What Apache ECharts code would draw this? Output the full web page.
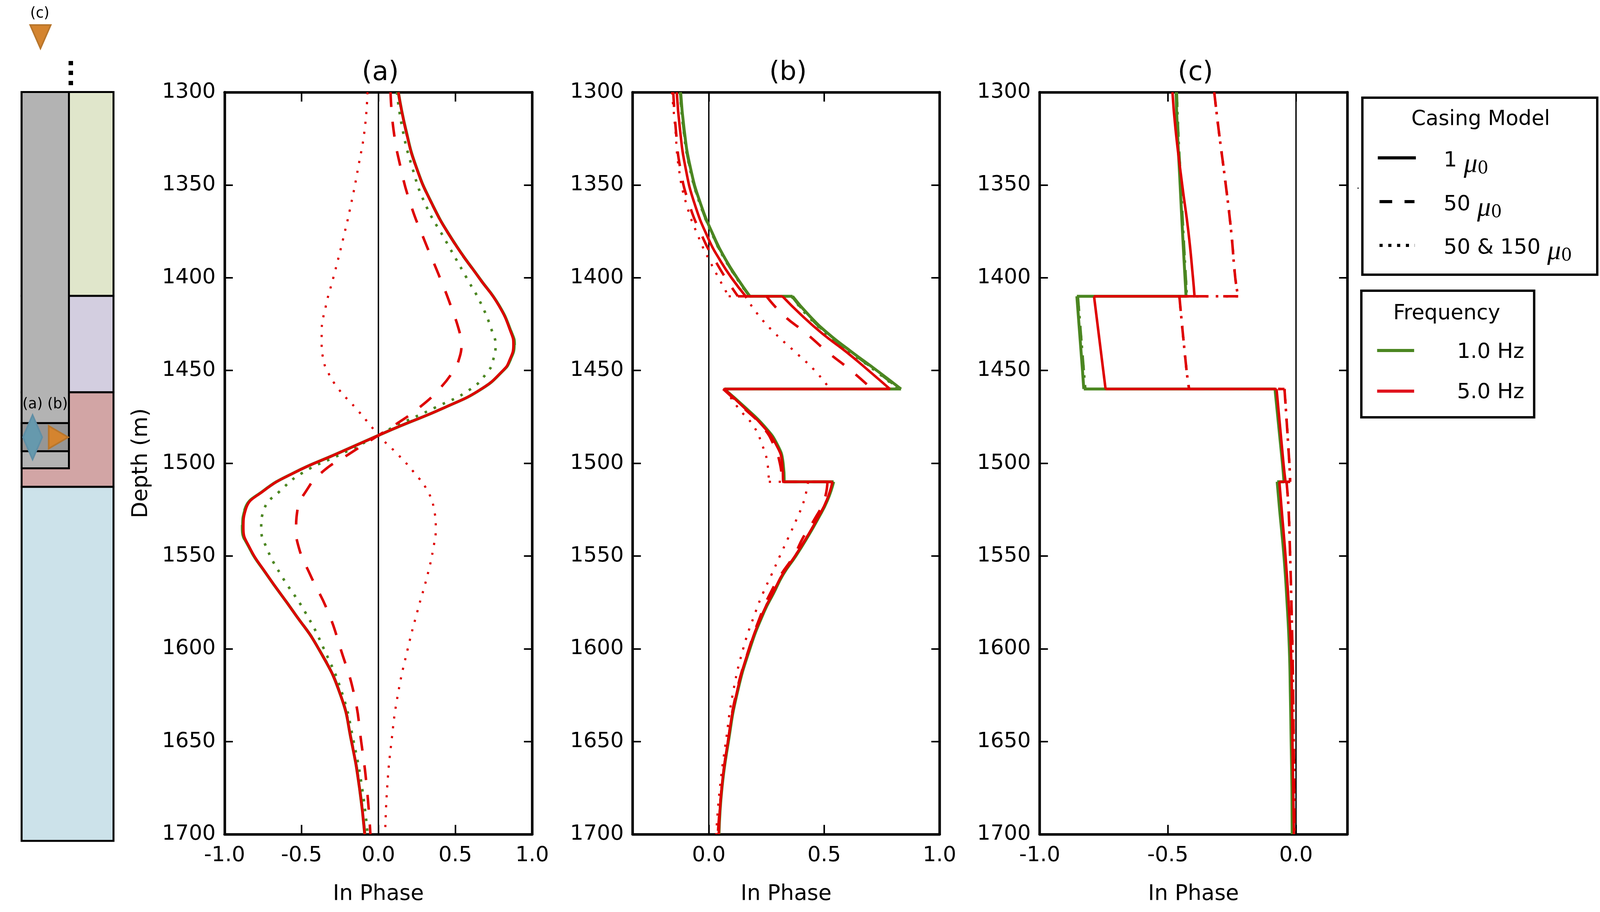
<!DOCTYPE html>
<html>
<head>
<meta charset="utf-8">
<title>In Phase</title>
<style>
  html, body { margin: 0; padding: 0; background: #fff; width: 100%; height: 100%; overflow: hidden; }
  #main { width: 100%; height: 100%; }
</style>
<script src="https://cdn.jsdelivr.net/npm/echarts@6/dist/echarts.min.js"></script>
</head>
<body>
<div id="main"></div>
<script>
// panel (a)
const depthA = [1300,1320,1340,1360,1380,1400,1415,1430,1436,1445,1450,1460,1470,1480,1485,1495,1505,1515,1525,1535,1545,1560,1580,1600,1625,1650,1675,1700];
const aGreenSolid = [0.13,0.178,0.245,0.348,0.485,0.655,0.785,0.867,0.883,0.853,0.812,0.67,0.43,0.14,0,-0.273,-0.546,-0.75,-0.867,-0.883,-0.843,-0.726,-0.553,-0.389,-0.246,-0.175,-0.123,-0.089];
const aGreenDashed = [0.128,0.176,0.243,0.346,0.483,0.653,0.785,0.869,0.886,0.855,0.812,0.668,0.428,0.138,0,-0.271,-0.544,-0.75,-0.87,-0.886,-0.845,-0.726,-0.552,-0.387,-0.244,-0.173,-0.121,-0.087];
const aGreenDotted = [0.12,0.157,0.218,0.303,0.437,0.573,0.673,0.744,0.762,0.744,0.717,0.6,0.369,0.11,0,-0.24,-0.49,-0.64,-0.744,-0.762,-0.73,-0.635,-0.478,-0.355,-0.232,-0.161,-0.106,-0.07];
const aRedSolid = [0.13,0.177,0.244,0.347,0.484,0.654,0.783,0.864,0.878,0.85,0.81,0.669,0.43,0.14,0,-0.273,-0.545,-0.748,-0.863,-0.878,-0.84,-0.725,-0.553,-0.389,-0.246,-0.175,-0.123,-0.089];
const aRedDashed = [0.079,0.098,0.143,0.208,0.3,0.4,0.47,0.53,0.54,0.52,0.49,0.396,0.266,0.096,0,-0.19,-0.369,-0.47,-0.526,-0.535,-0.519,-0.444,-0.328,-0.246,-0.157,-0.112,-0.075,-0.052];
const aRedDotted = [-0.071,-0.089,-0.13,-0.177,-0.232,-0.293,-0.341,-0.369,-0.369,-0.355,-0.334,-0.259,-0.15,-0.048,0,0.123,0.232,0.32,0.362,0.373,0.359,0.32,0.253,0.191,0.126,0.085,0.057,0.044];

// panel (b)
const depthB = [1300,1320,1340,1360,1380,1390,1400,1410,1410,1420,1430,1440,1450,1460,1460,1470,1480,1490,1500,1510,1510,1520,1530,1540,1550,1560,1570,1580,1600,1625,1650,1675,1700];
const bGreenSolid = [-0.122,-0.107,-0.081,-0.036,0.03,0.072,0.122,0.178,0.363,0.432,0.516,0.619,0.728,0.833,0.067,0.158,0.24,0.297,0.322,0.327,0.541,0.514,0.473,0.427,0.377,0.322,0.281,0.24,0.178,0.121,0.085,0.057,0.044];
const bGreenDashed = [-0.124,-0.109,-0.083,-0.038,0.028,0.07,0.12,0.176,0.36,0.427,0.511,0.614,0.723,0.826,0.066,0.156,0.238,0.295,0.32,0.325,0.539,0.512,0.471,0.425,0.375,0.32,0.279,0.238,0.176,0.12,0.084,0.056,0.043];
const bGreenDotted = [-0.125,-0.11,-0.084,-0.039,0.027,0.069,0.119,0.175,0.358,0.424,0.508,0.61,0.72,0.82,0.066,0.155,0.237,0.294,0.319,0.324,0.538,0.511,0.47,0.424,0.374,0.319,0.278,0.237,0.176,0.119,0.084,0.056,0.043];
const bRedSolid = [-0.139,-0.125,-0.102,-0.062,0.002,0.046,0.098,0.16,0.319,0.4,0.491,0.596,0.692,0.785,0.067,0.153,0.235,0.292,0.318,0.322,0.536,0.511,0.47,0.424,0.374,0.319,0.278,0.237,0.175,0.119,0.083,0.056,0.043];
const bRedDashed = [-0.154,-0.143,-0.125,-0.086,-0.02,0.024,0.072,0.126,0.25,0.322,0.422,0.514,0.616,0.707,0.062,0.149,0.231,0.281,0.308,0.318,0.514,0.5,0.459,0.409,0.368,0.313,0.267,0.231,0.174,0.117,0.083,0.056,0.039];
const bRedDotted = [-0.16,-0.145,-0.131,-0.098,-0.038,0,0.042,0.086,0.158,0.214,0.287,0.374,0.459,0.525,0.071,0.126,0.194,0.231,0.254,0.26,0.43,0.413,0.381,0.345,0.308,0.272,0.235,0.203,0.149,0.103,0.074,0.048,0.032];

// panel (c)
const depthC = [1300,1320,1350,1375,1400,1410,1410,1450,1460,1460,1500,1510,1510,1525,1550,1575,1600,1625,1650,1675,1700];
const cGreenSolid = [-0.468,-0.463,-0.452,-0.443,-0.433,-0.429,-0.855,-0.833,-0.828,-0.082,-0.053,-0.047,-0.0735,-0.064,-0.047,-0.035,-0.026,-0.022,-0.019,-0.016,-0.015];
const cGreenDashed = [-0.465,-0.46,-0.449,-0.44,-0.43,-0.426,-0.851,-0.828,-0.822,-0.08,-0.051,-0.046,-0.072,-0.062,-0.046,-0.034,-0.025,-0.021,-0.018,-0.015,-0.014];
const cRedSolid = [-0.482,-0.47,-0.444,-0.42,-0.402,-0.396,-0.788,-0.752,-0.743,-0.076,-0.049,-0.041,-0.065,-0.056,-0.041,-0.029,-0.02,-0.016,-0.014,-0.011,-0.008];
const cRedDashed = [-0.319,-0.302,-0.274,-0.253,-0.237,-0.226,-0.455,-0.427,-0.417,-0.045,-0.026,-0.023,-0.037,-0.029,-0.023,-0.018,-0.014,-0.011,-0.009,-0.007,-0.006];

// axes
const panelTitles = ["(a)", "(b)", "(c)"];
const xLimits = [[-1, 1], [-0.33, 1], [-1, 0.2]];
const xTicks = [[-1, -0.5, 0, 0.5, 1], [0, 0.5, 1], [-1, -0.5, 0]];
const depthLimits = [1300, 1700];

// well sketch
const layerTop = [1300, 1410, 1462, 1513];
const layerBottom = [1410, 1462, 1513, 1704];
const casingTop = [1300, 1478.6];
const casingBottom = [1503, 1493.8];

let myChart = echarts.init(document.getElementById("main"));

// the browser can come up narrower than the 4666 wide reference (it clamps at 4096),
// so every horizontal position is taken from reference pixels through this scale
const sx = myChart.getWidth() / 4666;
const X = (px) => px * sx;

const GREEN = "#4b8621";
const RED = "#de0000";
const FONT = "DejaVu Sans";
const TICK_SIZE = 54;
const grids = [
  { left: X(655), top: 236, width: X(897), height: 1899 },
  { left: X(1845), top: 236, width: X(895), height: 1899 },
  { left: X(3032), top: 236, width: X(897), height: 1899 },
];

const DASH = [38, 38];
function dots(w) {
  return [w, 76 / 3 - w];
}

function line(panel, points, color, width, type, smooth) {
  return {
    type: "line",
    xAxisIndex: panel * 2,
    yAxisIndex: panel * 2,
    data: points,
    showSymbol: false,
    symbol: "none",
    smooth: smooth,
    silent: true,
    lineStyle: { color: color, width: width, type: type },
  };
}

// a curve is smoothed between the jumps only; the jumps stay straight and horizontal
function curve(panel, depth, values, color, width, type, smooth) {
  let pieces = [];
  let jumps = [];
  values.forEach((v, i) => {
    if (i > 0 && depth[i] == depth[i - 1]) {
      pieces.push([null, null]);
      jumps.push([values[i - 1], depth[i]], [v, depth[i]], [null, null]);
    }
    pieces.push([v, depth[i]]);
  });
  let out = [line(panel, pieces, color, width, type, smooth)];
  if (jumps.length) {
    out.push(line(panel, jumps, color, width, type, false));
  }
  return out;
}

let xAxes = [];
let yAxes = [];
grids.forEach((g, i) => {
  let spine = { show: true, onZero: false, lineStyle: { color: "#000", width: 6.5 } };
  let tickStyle = { color: "#000", width: 4 };
  let [xMin, xMax] = xLimits[i];
  xAxes.push({
    gridIndex: i,
    type: "value",
    min: xMin,
    max: xMax,
    name: "In Phase",
    nameLocation: "middle",
    nameGap: 126,
    nameTextStyle: { fontFamily: FONT, fontSize: 55, color: "#000" },
    axisLine: spine,
    splitLine: { show: false },
    axisTick: { show: true, inside: true, length: 24, lineStyle: tickStyle, customValues: xTicks[i] },
    axisLabel: {
      show: true,
      fontFamily: FONT,
      fontSize: TICK_SIZE,
      color: "#000",
      margin: 28,
      customValues: xTicks[i],
      formatter: (v) => Number(v).toFixed(1),
    },
  });
  xAxes.push({
    gridIndex: i,
    type: "value",
    position: "top",
    min: xMin,
    max: xMax,
    axisLine: spine,
    splitLine: { show: false },
    axisTick: { show: true, inside: true, length: 24, lineStyle: tickStyle, customValues: xTicks[i] },
    axisLabel: { show: false },
  });
  yAxes.push({
    gridIndex: i,
    type: "value",
    inverse: true,
    min: depthLimits[0],
    max: depthLimits[1],
    interval: 50,
    name: i == 0 ? "Depth (m)" : "",
    nameLocation: "middle",
    nameGap: X(212),
    nameRotate: 90,
    nameTextStyle: { fontFamily: FONT, fontSize: 55, color: "#000" },
    axisLine: spine,
    splitLine: { show: false },
    axisTick: { show: true, inside: true, length: X(24), lineStyle: tickStyle },
    axisLabel: {
      show: true,
      fontFamily: FONT,
      fontSize: TICK_SIZE,
      color: "#000",
      margin: X(26),
      formatter: (v) => String(v),
    },
  });
  yAxes.push({
    gridIndex: i,
    type: "value",
    position: "right",
    inverse: true,
    min: depthLimits[0],
    max: depthLimits[1],
    interval: 50,
    axisLine: spine,
    splitLine: { show: false },
    axisTick: { show: true, inside: true, length: X(24), lineStyle: tickStyle },
    axisLabel: { show: false },
  });
});

// sketch grid
xAxes.push({ gridIndex: 3, type: "value", min: 0, max: 1, show: false });
yAxes.push({ gridIndex: 3, type: "value", inverse: true, min: 1300, max: 1704, show: false });

const layerColors = ["#e0e6cb", "#d3cee0", "#d2a5a5", "#cce2ea"];
const casingColors = ["#b3b3b3", "#969696"];

function rectSeries(rows, colors) {
  return {
    type: "custom",
    xAxisIndex: 6,
    yAxisIndex: 6,
    silent: true,
    data: rows,
    renderItem: function (params, api) {
      let a = api.coord([api.value(0), api.value(2)]);
      let b = api.coord([api.value(1), api.value(3)]);
      return {
        type: "rect",
        shape: { x: a[0], y: a[1], width: b[0] - a[0], height: b[1] - a[1] },
        style: { fill: colors[params.dataIndex], stroke: "#000", lineWidth: 5 },
      };
    },
  };
}

let series = [
  rectSeries(layerTop.map((t, i) => [0, 1, t, layerBottom[i]]), layerColors),
  rectSeries(casingTop.map((t, i) => [0, 0.515, t, casingBottom[i]]), casingColors),
];

// zero lines
[0, 1, 2].forEach((p) => {
  series.push(line(p, [[0, depthLimits[0]], [0, depthLimits[1]]], "#000", 3.5, "solid", false));
});

series.push(
  ...curve(0, depthA, aGreenSolid, GREEN, 7.5, "solid", 0.5),
  ...curve(0, depthA, aGreenDashed, GREEN, 6.5, DASH, 0.5),
  ...curve(0, depthA, aGreenDotted, GREEN, 6.5, dots(6.5), 0.5),
  ...curve(0, depthA, aRedSolid, RED, 6.5, "solid", 0.5),
  ...curve(0, depthA, aRedDashed, RED, 6.5, DASH, 0.5),
  ...curve(0, depthA, aRedDotted, RED, 5.5, dots(5.5), 0.5),
  ...curve(1, depthB, bGreenSolid, GREEN, 7.5, "solid", 0.5),
  ...curve(1, depthB, bGreenDashed, GREEN, 6.5, DASH, 0.5),
  ...curve(1, depthB, bGreenDotted, GREEN, 6.5, dots(6.5), 0.5),
  ...curve(1, depthB, bRedSolid, RED, 6.5, "solid", 0.5),
  ...curve(1, depthB, bRedDashed, RED, 6.5, DASH, 0.5),
  ...curve(1, depthB, bRedDotted, RED, 5.5, dots(5.5), 0.5),
  ...curve(2, depthC, cGreenSolid, GREEN, 7.5, "solid", 0.5),
  ...curve(2, depthC, cGreenDashed, GREEN, 6.5, DASH, 0.5),
  ...curve(2, depthC, cGreenDashed, GREEN, 6.5, dots(6.5), 0.5),
  ...curve(2, depthC, cRedSolid, RED, 6.5, "solid", 0.5),
  ...curve(2, depthC, cRedDashed, RED, 6.5, DASH, 0.5),
  ...curve(2, depthC, cRedDashed, RED, 6.5, dots(6.5), 0.5)
);

function label(text, x, y, size, align) {
  return {
    type: "text",
    z: 20,
    x: X(x),
    y: y,
    style: {
      text: text,
      fontFamily: FONT,
      fontSize: size,
      fill: "#000",
      align: align || "center",
      verticalAlign: "middle",
    },
  };
}
function poly(points, fill, stroke) {
  return {
    type: "polygon",
    z: 20,
    shape: { points: points.map((p) => [X(p[0]), p[1]]) },
    style: { fill: fill, stroke: stroke, lineWidth: 4 },
  };
}
function box(x, y, w, h) {
  return {
    type: "rect",
    z: 15,
    shape: { x: X(x), y: y, width: X(w), height: h },
    style: { fill: "#fff", stroke: "#000", lineWidth: 6 },
  };
}
function seg(x1, x2, y, color, width, dash) {
  return {
    type: "line",
    z: 20,
    shape: { x1: X(x1), y1: y, x2: X(x2), y2: y },
    style: { stroke: color, lineWidth: width, lineDash: dash || null },
  };
}
function dot(x, y, w, h) {
  return { type: "rect", z: 20, shape: { x: X(x), y: y, width: X(w), height: h }, style: { fill: "#000" } };
}
function muLabel(text, x, y) {
  return {
    type: "text",
    z: 20,
    x: X(x),
    y: y,
    style: {
      text: "{t|" + text + " }{mu|μ}{sub|0}",
      align: "left",
      verticalAlign: "middle",
      rich: {
        t: { fontFamily: FONT, fontSize: 54, color: "#000" },
        mu: { fontFamily: "Liberation Serif", fontStyle: "italic", fontSize: 70, color: "#000", padding: [20, 0, 0, 0] },
        sub: { fontFamily: "DejaVu Serif", fontSize: 44, color: "#000", padding: [42, 0, 0, 0] },
      },
    },
  };
}

let graphics = [
  // markers on the sketch
  label("(c)", 116, 35, 37),
  poly([[88, 64], [148, 64], [118, 124]], "#d4842f", "#b8762c"),
  dot(200, 156, 13, 11),
  dot(200, 181, 13, 11),
  dot(200, 207, 13, 11),
  label("(a)", 95, 1035, 37),
  label("(b)", 168, 1035, 37),
  poly([[95, 1062], [123, 1119], [95, 1176], [67, 1119]], "#6699ad", "#5f8fa6"),
  poly([[142, 1090], [199, 1119], [142, 1148]], "#d4842f", "#b8762c"),
  // legends
  box(3973, 250, 685, 453),
  label("Casing Model", 4318, 306, 53),
  seg(4018, 4129, 404, "#000", 8),
  seg(4023, 4125, 516, "#000", 8, [37 * sx, 36 * sx]),
  seg(4023, 4126, 628, "#000", 8, [8, 16.5 * sx]),
  muLabel("1", 4210, 412),
  muLabel("50", 4210, 524),
  muLabel("50 & 150", 4210, 635),
  box(3970, 744, 504, 324),
  label("Frequency", 4219, 803, 53),
  seg(4016, 4124, 897, "#4b8621", 8),
  seg(4016, 4124, 1001, "#e0141e", 8),
  label("1.0 Hz", 4445, 902, 54, "right"),
  label("5.0 Hz", 4445, 1005, 54, "right"),
  dot(3959, 480, 3, 3),
];

let option = {
  animation: false,
  backgroundColor: "#fff",
  title: panelTitles.map((t, i) => ({
    text: t,
    left: grids[i].left + grids[i].width / 2,
    top: 148,
    textAlign: "center",
    textStyle: { fontFamily: FONT, fontSize: 68, fontWeight: "normal", color: "#000" },
  })),
  grid: grids.concat([{ left: X(63), top: 235.5, width: X(268), height: 1916.5 }]),
  xAxis: xAxes,
  yAxis: yAxes,
  series: series,
  graphic: graphics,
};

myChart.setOption(option);
</script>
</body>
</html>
